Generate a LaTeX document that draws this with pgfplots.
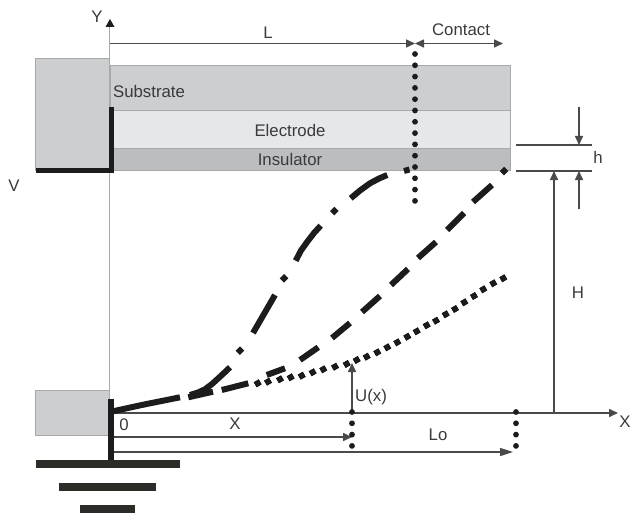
\documentclass[border=0pt]{standalone}
\usepackage{fontspec}
\setmainfont{Liberation Sans}
\usepackage{pgfplots}
\pgfplotsset{compat=1.18}
\usetikzlibrary{arrows.meta}
\definecolor{txt}{HTML}{3A3A3C}
\definecolor{linegray}{HTML}{4A4A4A}
\definecolor{subst}{HTML}{CDCED0}
\definecolor{elec}{HTML}{E6E7E9}
\definecolor{insul}{HTML}{BCBDBF}
\definecolor{edge}{HTML}{A8A9AB}
\definecolor{ground}{HTML}{2C2D28}
\definecolor{thick}{HTML}{1C1C1C}
\tikzset{
  lab/.style={text=txt,inner sep=0pt,font=\fontsize{16.8}{19}\selectfont},
  arr/.style={draw=linegray,line width=1.6pt,-{Triangle[length=9pt,width=8pt]}},
  dots/.style={draw=thick,line width=5.8pt,line cap=round,dash pattern=on 0pt off 11.3pt},
}
\begin{document}
\begin{tikzpicture}
\begin{axis}[
  scale only axis,width=631pt,height=513pt,
  xmin=0,xmax=631,ymin=0,ymax=513,y dir=reverse,
  hide axis,clip=false,unbounded coords=jump]
% blocks
\addplot[fill=subst,draw=edge,line width=0.6pt] coordinates {(35,58) (109,58) (109,170) (35,170)} --cycle;
\addplot[fill=subst,draw=edge,line width=0.6pt] coordinates {(35,390) (109,390) (109,435.5) (35,435.5)} --cycle;
\addplot[fill=subst,draw=edge,line width=0.8pt] coordinates {(110,65) (510,65) (510,110.5) (110,110.5)} --cycle;
\addplot[fill=elec,draw=edge,line width=0.8pt] coordinates {(110,110.5) (510,110.5) (510,148) (110,148)} --cycle;
\addplot[fill=insul,draw=edge,line width=0.8pt] coordinates {(110,148) (510,148) (510,170) (110,170)} --cycle;
% axes and dimension lines
\addplot[draw=edge,line width=1pt] coordinates {(109,410) (109,27)};
\addplot[fill=thick,draw=none] coordinates {(105.5,27) (114.5,27) (110,19)} --cycle;
\addplot[arr] coordinates {(110,413) (618,413)};
\addplot[arr] coordinates {(110,43.5) (415,43.5)};
\addplot[arr] coordinates {(424,43.5) (503,43.5)};
\addplot[arr] coordinates {(425,43.5) (415,43.5)};
\addplot[arr] coordinates {(113,437) (352,437)};
\addplot[arr,-{Triangle[length=13pt,width=8pt]}] coordinates {(113,452) (513,452)};
\addplot[arr] coordinates {(352,413) (352,363)};
\addplot[arr] coordinates {(554,413) (554,171)};
\addplot[draw=linegray,line width=1.6pt] coordinates {(516,145) (592,145)};
\addplot[draw=linegray,line width=1.6pt] coordinates {(516,171) (592,171)};
\addplot[arr] coordinates {(579,107) (579,145)};
\addplot[arr] coordinates {(579,209) (579,171)};
% thick electrodes and ground
\addplot[draw=thick,line width=5pt] coordinates {(36,170.5) (111.5,170.5) (111.5,107)};
\addplot[draw=thick,line width=5.5pt] coordinates {(111,399) (111,461)};
\addplot[fill=ground,draw=none] coordinates {(36,460) (180,460) (180,468) (36,468)} --cycle;
\addplot[fill=ground,draw=none] coordinates {(59,483) (156,483) (156,491) (59,491)} --cycle;
\addplot[fill=ground,draw=none] coordinates {(80,505) (135,505) (135,513) (80,513)} --cycle;
% dotted verticals
\addplot[dots] coordinates {(415,54) (415,202)};
\addplot[dots] coordinates {(352,412) (352,457)};
\addplot[dots] coordinates {(516,412) (516,457)};
% dash-dot curve
\addplot[draw=thick,line width=6pt] coordinates {
  (112,411.5) (141.7,405) (180,397.3) (nan,nan)
  (190,395) (198,392.5) (205,389.3) (212,384) (218.3,378.3) (224,373) (230,367.3) (nan,nan)
  (237.8,352.9) (242.2,348.5) (nan,nan)
  (253,333) (264,314) (275,295) (nan,nan)
  (281.8,280.5) (286.2,276.1) (nan,nan)
  (295.7,260.7) (301,250.5) (307.3,241.7) (314,233) (320.7,225.7) (nan,nan)
  (332.1,213.2) (336.5,208.8) (nan,nan)
  (350.7,198.3) (360,190.5) (370,183.3) (379,178.5) (387.3,175) (nan,nan)
  (404,171) (409.5,169.5)
};
% dashed curve
\addplot[draw=thick,line width=6pt] coordinates {
  (188.3,397.3) (213,391.7) (nan,nan)
  (221.7,390) (248.3,383.3) (nan,nan)
  (266.7,375) (285,368.3) (nan,nan)
  (300,360) (318.3,347.3) (nan,nan)
  (332,338) (350,323) (nan,nan)
  (362,312) (380,296) (nan,nan)
  (391,285) (408,269) (nan,nan)
  (418,258) (436,242) (nan,nan)
  (447,230) (464,213) (nan,nan)
  (473,202) (492,185) (nan,nan)
  (501.8,173.2) (506.2,168.8)
};
% dotted curve
\addplot[only marks,mark=square*,mark size=2.7pt,mark options={fill=thick,draw=none,rotate=30}] coordinates {
  (257.7,383.3) (268,381.7) (280,379.3) (290.7,377.3) (301.7,375.7) (312.7,372.3)
  (323.3,369.3) (335,366.7) (346.7,364) (356.7,360) (366.7,356.7)
  (377.3,352.3) (387.3,347.3) (397.3,342.3) (407.3,336.7) (416.7,331.3)
  (426.7,325.3) (436,320.7) (445.7,314.3) (455,309) (464.3,302.3)
  (474,296) (483.3,289.3) (493.3,283.3) (503.3,278.3)
};
% labels
\node[lab] at (axis cs:97,17) {Y};
\node[lab] at (axis cs:268,33) {L};
\node[lab] at (axis cs:461,30) {Contact};
\node[lab] at (axis cs:149,91) {Substrate};
\node[lab] at (axis cs:290,130) {Electrode};
\node[lab] at (axis cs:290,159) {Insulator};
\node[lab] at (axis cs:14,186) {V};
\node[lab] at (axis cs:598,157) {h};
\node[lab] at (axis cs:578,293) {H};
\node[lab] at (axis cs:371,397) {U(x)};
\node[lab] at (axis cs:124,425) {0};
\node[lab] at (axis cs:235,424) {X};
\node[lab] at (axis cs:438,435) {Lo};
\node[lab] at (axis cs:625,422) {X};
\path (axis cs:0,0) rectangle (axis cs:631,513);
\end{axis}
\end{tikzpicture}
\end{document}
